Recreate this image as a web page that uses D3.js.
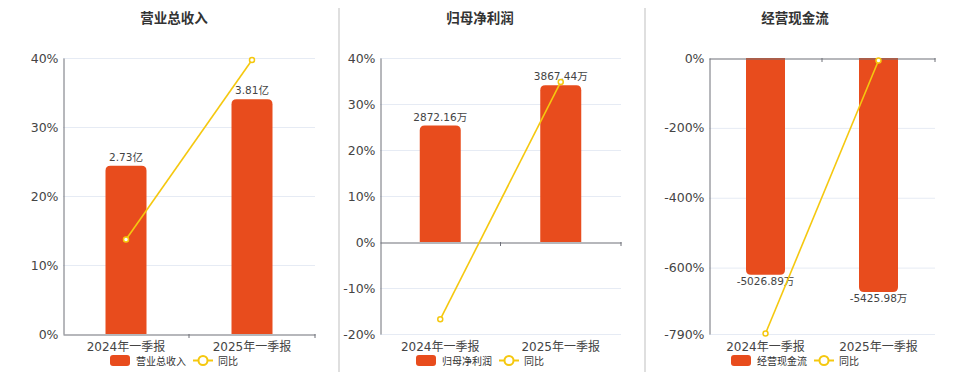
<!DOCTYPE html>
<html><head><meta charset="utf-8">
<script src="https://cdn.jsdelivr.net/npm/d3@7/dist/d3.min.js"></script>
<style>
body{margin:0;background:#fff;}
svg{display:block;}
</style></head>
<body><svg id="c" width="960" height="372"></svg>
<script>
const categories = ["2024年一季报", "2025年一季报"];
const titles = ["营业总收入", "归母净利润", "经营现金流"];
const legendNames = ["营业总收入", "归母净利润", "经营现金流"];
const lineName = "同比";

// bar values (display units) and labels
const revenueValues = [2.73, 3.81];
const revenueLabels = ["2.73亿", "3.81亿"];
const profitValues = [2872.16, 3867.44];
const profitLabels = ["2872.16万", "3867.44万"];
const cashValues = [-5026.89, -5425.98];
const cashLabels = ["-5026.89万", "-5425.98万"];

// YoY percentages
const revenueYoY = [13.7, 39.7];
const profitYoY = [-16.8, 34.8];
const cashYoY = [-788.7, -7];

// axis ticks
const revenueTicks = [0, 10, 20, 30, 40];
const profitTicks = [-20, -10, 0, 10, 20, 30, 40];
const cashTicks = [-790, -600, -400, -200, 0];

const BAR = "#e84c1d", LINE = "#f5c80f", GRID = "#e6ebf4", AXIS = "#6e7079", TXT = "#333";
const NUMF = "'DejaVu Sans','Noto Sans CJK SC',sans-serif";
const CJK = "'Noto Sans CJK SC','DejaVu Sans',sans-serif";

const svg = d3.select("#c");

// separators
[339, 645].forEach(x => svg.append("line").attr("x1", x).attr("x2", x).attr("y1", 8).attr("y2", 372)
  .attr("stroke", "#d4d4d4").attr("stroke-width", 1.5));

const panels = [
  {x0: 63, x1: 315, y0: 58, y1: 334, center: 174, pDomain: [0, 40], bDomain: [0, 4.48],
   vals: revenueValues, labels: revenueLabels, yoy: revenueYoY, ticks: revenueTicks, barW: 41},
  {x0: 380, x1: 621, y0: 58, y1: 334, center: 480, pDomain: [-20, 40], bDomain: [-2270, 4540],
   vals: profitValues, labels: profitLabels, yoy: profitYoY, ticks: profitTicks, barW: 41},
  {x0: 709, x1: 935, y0: 58, y1: 334, center: 795, pDomain: [-790, 0], bDomain: [-6400, 0],
   vals: cashValues, labels: cashLabels, yoy: cashYoY, ticks: cashTicks, barW: 39}
];

panels.forEach((p, i) => {
  const g = svg.append("g");
  const x = d3.scaleBand().domain(categories).range([p.x0, p.x1]);
  const yP = d3.scaleLinear().domain(p.pDomain).range([p.y1, p.y0]);
  const yB = d3.scaleLinear().domain(p.bDomain).range([p.y1, p.y0]);
  const zeroY = yP(0);

  // title
  g.append("text").attr("x", p.center).attr("y", 23).attr("text-anchor", "middle")
    .attr("font-family", CJK).attr("font-weight", "bold").attr("font-size", 13.5).attr("fill", TXT)
    .text(titles[i]);

  // grid
  g.selectAll(".grid").data(p.ticks.filter(t => t !== 0)).enter().append("line")
    .attr("x1", p.x0).attr("x2", p.x1).attr("y1", d => yP(d) + 0.5).attr("y2", d => yP(d) + 0.5)
    .attr("stroke", GRID).attr("stroke-width", 1);

  // y axis
  const ya = g.append("g").attr("transform", `translate(${p.x0 + 0.5},0)`)
    .call(d3.axisLeft(yP).tickValues(p.ticks).tickSize(0).tickPadding(5).tickFormat(d => d + "%"));
  ya.select(".domain").attr("stroke", AXIS).attr("stroke-width", 1);
  ya.selectAll("text").attr("font-family", NUMF).attr("font-size", 12.5).attr("fill", "#444");

  // bars with rounded ends away from zero
  const r = 5;
  p.vals.forEach((v, j) => {
    const cx = x(categories[j]) + x.bandwidth() / 2;
    const bx = cx - p.barW / 2, w = p.barW;
    const yv = yB(v), y0 = yB(0);
    let path;
    if (v >= 0) {
      path = `M${bx},${y0} V${yv + r} Q${bx},${yv} ${bx + r},${yv} H${bx + w - r} Q${bx + w},${yv} ${bx + w},${yv + r} V${y0} Z`;
    } else {
      path = `M${bx},${y0} V${yv - r} Q${bx},${yv} ${bx + r},${yv} H${bx + w - r} Q${bx + w},${yv} ${bx + w},${yv - r} V${y0} Z`;
    }
    g.append("path").attr("d", path).attr("fill", BAR);
    g.append("text").attr("x", cx).attr("y", v >= 0 ? yv - 5 : yv + 10)
      .attr("text-anchor", "middle").attr("font-family", NUMF).attr("font-size", 10.5).attr("fill", "#444")
      .text(p.labels[j]);
  });

  // category axis at zero
  const xa = g.append("g").attr("transform", `translate(0,${zeroY + 0.5})`)
    .call(d3.axisBottom(x).tickSize(0).tickFormat(""));
  xa.select(".domain").attr("stroke", AXIS).attr("stroke-width", 1.2);
  // boundary ticks
  [1, 2].forEach(k => {
    const tx = p.x0 + k * x.bandwidth();
    g.append("line").attr("x1", tx).attr("x2", tx).attr("y1", zeroY).attr("y2", zeroY + 4)
      .attr("stroke", AXIS).attr("stroke-width", 1);
  });
  // category labels at bottom
  categories.forEach(c => {
    g.append("text").attr("x", x(c) + x.bandwidth() / 2).attr("y", 350.5).attr("text-anchor", "middle")
      .attr("font-family", NUMF).attr("font-size", 12).attr("fill", "#444").text(c);
  });

  // line
  const pts = p.yoy.map((v, j) => [x(categories[j]) + x.bandwidth() / 2, yP(v)]);
  g.append("path").attr("d", d3.line()(pts)).attr("fill", "none").attr("stroke", LINE).attr("stroke-width", 1.6);
  g.selectAll(".pt").data(pts).enter().append("circle").attr("cx", d => d[0]).attr("cy", d => d[1])
    .attr("r", 2.5).attr("fill", "#fff").attr("stroke", LINE).attr("stroke-width", 1.5);

  // legend
  const lg = g.append("g");
  const lx = p.center - 64;
  lg.append("rect").attr("x", lx).attr("y", 355).attr("width", 20).attr("height", 11).attr("rx", 3).attr("fill", BAR);
  lg.append("text").attr("x", lx + 26).attr("y", 364.5).attr("font-family", CJK).attr("font-size", 10).attr("fill", "#333").text(legendNames[i]);
  lg.append("line").attr("x1", lx + 83).attr("x2", lx + 103).attr("y1", 360.5).attr("y2", 360.5).attr("stroke", LINE).attr("stroke-width", 2);
  lg.append("circle").attr("cx", lx + 93).attr("cy", 360.5).attr("r", 4.5).attr("fill", "#fff").attr("stroke", LINE).attr("stroke-width", 2);
  lg.append("text").attr("x", lx + 108).attr("y", 364.5).attr("font-family", CJK).attr("font-size", 10).attr("fill", "#333").text(lineName);
});
</script></body></html>
